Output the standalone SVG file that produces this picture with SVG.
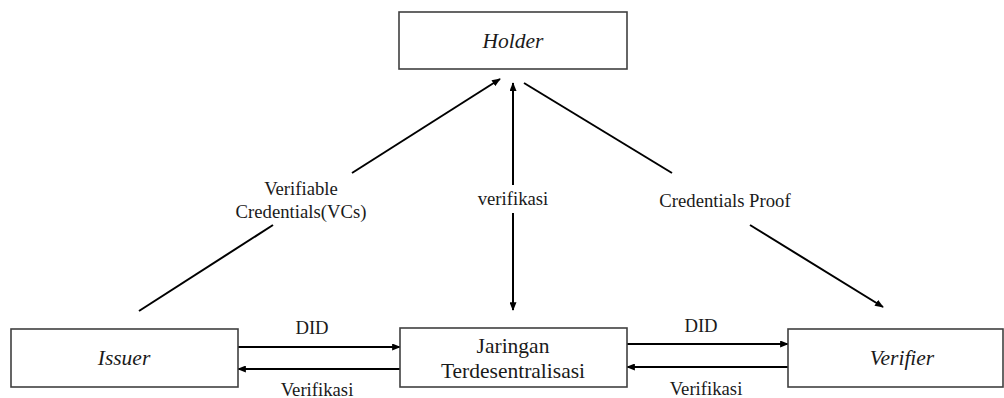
<svg xmlns="http://www.w3.org/2000/svg" width="1004" height="398" viewBox="0 0 1004 398">
  <style>
    .box { fill: #ffffff; stroke: #404040; stroke-width: 1.6; }
    .node-label { font-family: "Liberation Serif", "Times New Roman", serif; font-size: 21.5px; fill: #1a1a1a; text-anchor: middle; }
    .italic { font-style: italic; }
    .edge { stroke: #000000; stroke-width: 2; fill: none; }
    .edge-label { font-family: "Liberation Serif", "Times New Roman", serif; font-size: 18.7px; fill: #1a1a1a; text-anchor: middle; }
  </style>
  <defs>
    <marker id="arrow" viewBox="0 0 10 8" refX="9" refY="4" markerWidth="9" markerHeight="7" markerUnits="userSpaceOnUse" orient="auto-start-reverse">
      <path d="M0,0 L10,4 L0,8 z" fill="#000000"/>
    </marker>
  </defs>

  <rect width="1004" height="398" fill="#ffffff"/>

  <g id="connectors">
    <!-- Issuer to Holder: Verifiable Credentials -->
    <line class="edge" x1="139" y1="311" x2="273" y2="225"/>
    <line class="edge" x1="352" y1="173" x2="500" y2="79" marker-end="url(#arrow)"/>
    <!-- Holder / network verification -->
    <line class="edge" x1="513" y1="185" x2="513" y2="83" marker-end="url(#arrow)"/>
    <line class="edge" x1="513" y1="213" x2="513" y2="310" marker-end="url(#arrow)"/>
    <!-- Holder to Verifier: Credentials Proof -->
    <line class="edge" x1="524" y1="83" x2="672" y2="173"/>
    <line class="edge" x1="750" y1="225" x2="883" y2="307" marker-end="url(#arrow)"/>
    <!-- Issuer and network -->
    <line class="edge" x1="238" y1="347" x2="400" y2="347" marker-end="url(#arrow)"/>
    <line class="edge" x1="400" y1="369" x2="238" y2="369" marker-end="url(#arrow)"/>
    <!-- Network and Verifier -->
    <line class="edge" x1="627" y1="344" x2="788" y2="344" marker-end="url(#arrow)"/>
    <line class="edge" x1="788" y1="367" x2="627" y2="367" marker-end="url(#arrow)"/>

    <text class="edge-label" x="301" y="195">Verifiable</text>
    <text class="edge-label" x="301" y="218">Credentials(VCs)</text>
    <text class="edge-label" x="513" y="205">verifikasi</text>
    <text class="edge-label" x="725" y="207">Credentials Proof</text>
    <text class="edge-label" x="312" y="334">DID</text>
    <text class="edge-label" x="317" y="396">Verifikasi</text>
    <text class="edge-label" x="701" y="332">DID</text>
    <text class="edge-label" x="706" y="395">Verifikasi</text>
  </g>

  <g id="holder">
    <rect class="box" x="399" y="12" width="228" height="57"/>
    <text class="node-label italic" x="513" y="48">Holder</text>
  </g>

  <g id="issuer">
    <rect class="box" x="11" y="329" width="227" height="58"/>
    <text class="node-label italic" x="124" y="365">Issuer</text>
  </g>

  <g id="network">
    <rect class="box" x="400" y="328" width="227" height="59"/>
    <text class="node-label" x="513" y="353">Jaringan</text>
    <text class="node-label" x="513" y="378">Terdesentralisasi</text>
  </g>

  <g id="verifier">
    <rect class="box" x="788" y="329" width="215" height="58"/>
    <text class="node-label italic" x="902" y="365">Verifier</text>
  </g>
</svg>
